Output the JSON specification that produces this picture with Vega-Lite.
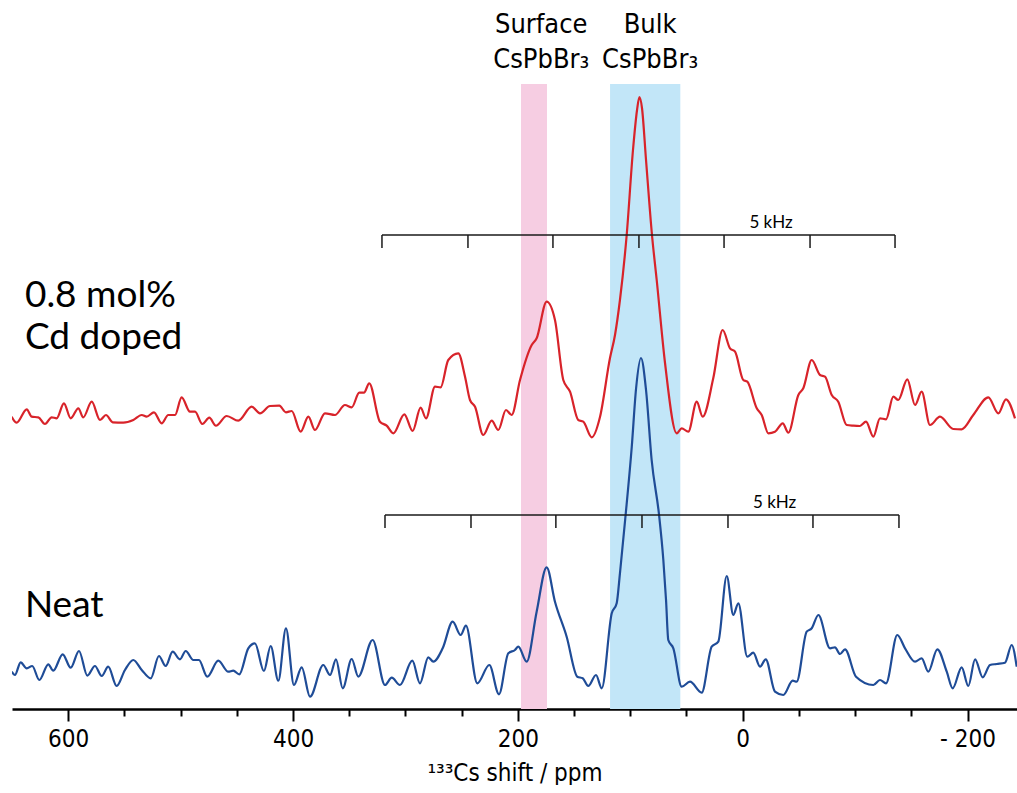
{
  "$schema": "https://vega.github.io/schema/vega-lite/v6.json",
  "width": 1005,
  "height": 709,
  "autosize": {"type": "pad"},
  "padding": {"left": 12, "right": 0, "top": 0, "bottom": 0},
  "background": "white",
  "config": {"view": {"stroke": null}},
  "datasets": {
    "bands": [
      {"x": 197.2, "x2": 174.1, "y": 0, "y2": 625, "c": "surface"},
      {"x": 118.0, "x2": 55.5, "y": 0, "y2": 625, "c": "bulk"}
    ],
    "spec": [
      {"x": 650.3, "y": 292.3, "s": "doped"}, {"x": 645.9, "y": 286.3, "s": "doped"}, {"x": 636.9, "y": 299.7, "s": "doped"}, {"x": 632.5, "y": 292.3, "s": "doped"}, {"x": 626.6, "y": 291.7, "s": "doped"}, {"x": 620.7, "y": 285, "s": "doped"}, {"x": 614.7, "y": 291.7, "s": "doped"}, {"x": 610.3, "y": 290.7, "s": "doped"}, {"x": 603.8, "y": 305.7, "s": "doped"}, {"x": 597.8, "y": 290.7, "s": "doped"}, {"x": 591.0, "y": 300.7, "s": "doped"}, {"x": 586.6, "y": 291.7, "s": "doped"}, {"x": 579.1, "y": 307.3, "s": "doped"}, {"x": 571.7, "y": 289, "s": "doped"}, {"x": 566.4, "y": 294, "s": "doped"}, {"x": 560.4, "y": 286.7, "s": "doped"}, {"x": 551.0, "y": 286.3, "s": "doped"}, {"x": 542.1, "y": 289, "s": "doped"}, {"x": 534.6, "y": 294, "s": "doped"}, {"x": 530.2, "y": 292.3, "s": "doped"}, {"x": 523.7, "y": 296.7, "s": "doped"}, {"x": 516.9, "y": 285.7, "s": "doped"}, {"x": 511.0, "y": 294, "s": "doped"}, {"x": 505.0, "y": 294, "s": "doped"}, {"x": 499.1, "y": 311.7, "s": "doped"}, {"x": 491.7, "y": 297.3, "s": "doped"}, {"x": 487.2, "y": 297.3, "s": "doped"}, {"x": 480.7, "y": 285, "s": "doped"}, {"x": 474.5, "y": 291.3, "s": "doped"}, {"x": 468.6, "y": 283.3, "s": "doped"}, {"x": 459.0, "y": 293, "s": "doped"}, {"x": 448.7, "y": 288.3, "s": "doped"}, {"x": 436.8, "y": 302.3, "s": "doped"}, {"x": 429.4, "y": 295.7, "s": "doped"}, {"x": 420.5, "y": 303, "s": "doped"}, {"x": 412.2, "y": 303.3, "s": "doped"}, {"x": 406.3, "y": 296.7, "s": "doped"}, {"x": 401.2, "y": 298, "s": "doped"}, {"x": 393.2, "y": 277.3, "s": "doped"}, {"x": 386.4, "y": 292.3, "s": "doped"}, {"x": 380.5, "y": 279, "s": "doped"}, {"x": 371.6, "y": 295.7, "s": "doped"}, {"x": 362.7, "y": 294, "s": "doped"}, {"x": 353.8, "y": 304, "s": "doped"}, {"x": 347.8, "y": 301.7, "s": "doped"}, {"x": 341.1, "y": 316.3, "s": "doped"}, {"x": 336.9, "y": 316.3, "s": "doped"}, {"x": 332.2, "y": 325.7, "s": "doped"}, {"x": 322.7, "y": 287.3, "s": "doped"}, {"x": 316.7, "y": 283.3, "s": "doped"}, {"x": 310.8, "y": 275.7, "s": "doped"}, {"x": 301.0, "y": 294.7, "s": "doped"}, {"x": 293.6, "y": 278, "s": "doped"}, {"x": 286.5, "y": 301.3, "s": "doped"}, {"x": 281.7, "y": 290.7, "s": "doped"}, {"x": 273.7, "y": 322.3, "s": "doped"}, {"x": 268.7, "y": 321.7, "s": "doped"}, {"x": 261.9, "y": 349, "s": "doped"}, {"x": 253.0, "y": 355.7, "s": "doped"}, {"x": 247.0, "y": 332.3, "s": "doped"}, {"x": 242.6, "y": 309, "s": "doped"}, {"x": 238.1, "y": 302.3, "s": "doped"}, {"x": 230.8, "y": 274, "s": "doped"}, {"x": 223.3, "y": 288.3, "s": "doped"}, {"x": 217.4, "y": 279, "s": "doped"}, {"x": 210.6, "y": 299, "s": "doped"}, {"x": 205.5, "y": 294, "s": "doped"}, {"x": 198.1, "y": 329, "s": "doped"}, {"x": 187.7, "y": 364, "s": "doped"}, {"x": 183.3, "y": 370.7, "s": "doped"}, {"x": 174.4, "y": 407.3, "s": "doped"}, {"x": 167.0, "y": 389, "s": "doped"}, {"x": 159.6, "y": 329, "s": "doped"}, {"x": 153.6, "y": 317.3, "s": "doped"}, {"x": 146.3, "y": 289, "s": "doped"}, {"x": 141.8, "y": 287.3, "s": "doped"}, {"x": 134.3, "y": 271.7, "s": "doped"}, {"x": 126.9, "y": 292.3, "s": "doped"}, {"x": 118.1, "y": 350.7, "s": "doped"}, {"x": 113.6, "y": 374, "s": "doped"}, {"x": 109.2, "y": 409, "s": "doped"}, {"x": 103.2, "y": 474, "s": "doped"}, {"x": 97.6, "y": 559, "s": "doped"}, {"x": 94.0, "y": 599, "s": "doped"}, {"x": 91.9, "y": 612, "s": "doped"}, {"x": 89.6, "y": 601, "s": "doped"}, {"x": 86.0, "y": 549, "s": "doped"}, {"x": 80.7, "y": 474, "s": "doped"}, {"x": 76.5, "y": 429, "s": "doped"}, {"x": 69.1, "y": 346, "s": "doped"}, {"x": 58.7, "y": 275.7, "s": "doped"}, {"x": 54.3, "y": 280.7, "s": "doped"}, {"x": 48.4, "y": 277.3, "s": "doped"}, {"x": 40.9, "y": 307.3, "s": "doped"}, {"x": 35.6, "y": 292.3, "s": "doped"}, {"x": 26.2, "y": 330.7, "s": "doped"}, {"x": 17.8, "y": 379, "s": "doped"}, {"x": 11.3, "y": 360.7, "s": "doped"}, {"x": 6.8, "y": 357.3, "s": "doped"}, {"x": -0.5, "y": 329, "s": "doped"}, {"x": -4.1, "y": 327.3, "s": "doped"}, {"x": -12.5, "y": 300.7, "s": "doped"}, {"x": -16.9, "y": 294, "s": "doped"}, {"x": -22.8, "y": 275.7, "s": "doped"}, {"x": -28.7, "y": 277.3, "s": "doped"}, {"x": -35.6, "y": 285.7, "s": "doped"}, {"x": -40.6, "y": 276.3, "s": "doped"}, {"x": -49.5, "y": 314, "s": "doped"}, {"x": -53.9, "y": 320.7, "s": "doped"}, {"x": -61.4, "y": 349, "s": "doped"}, {"x": -68.8, "y": 334, "s": "doped"}, {"x": -73.2, "y": 332.3, "s": "doped"}, {"x": -79.2, "y": 314, "s": "doped"}, {"x": -85.0, "y": 307.3, "s": "doped"}, {"x": -92.5, "y": 284, "s": "doped"}, {"x": -98.4, "y": 283.3, "s": "doped"}, {"x": -104.3, "y": 283, "s": "doped"}, {"x": -109.7, "y": 287.3, "s": "doped"}, {"x": -116.2, "y": 272.3, "s": "doped"}, {"x": -122.1, "y": 290.7, "s": "doped"}, {"x": -127.5, "y": 289.7, "s": "doped"}, {"x": -134.0, "y": 312.3, "s": "doped"}, {"x": -138.4, "y": 309, "s": "doped"}, {"x": -146.4, "y": 329.7, "s": "doped"}, {"x": -153.3, "y": 304, "s": "doped"}, {"x": -159.2, "y": 317.3, "s": "doped"}, {"x": -166.6, "y": 284, "s": "doped"}, {"x": -175.5, "y": 292.3, "s": "doped"}, {"x": -187.3, "y": 280, "s": "doped"}, {"x": -194.8, "y": 279.7, "s": "doped"}, {"x": -205.1, "y": 294, "s": "doped"}, {"x": -218.5, "y": 311.7, "s": "doped"}, {"x": -227.4, "y": 295.7, "s": "doped"}, {"x": -234.2, "y": 309.7, "s": "doped"}, {"x": -242.2, "y": 290.7, "s": "doped"},
      {"x": 650.3, "y": 37.3, "s": "neat"}, {"x": 647.4, "y": 34, "s": "neat"}, {"x": 642.3, "y": 46.7, "s": "neat"}, {"x": 636.9, "y": 40.7, "s": "neat"}, {"x": 632.0, "y": 43, "s": "neat"}, {"x": 625.7, "y": 29, "s": "neat"}, {"x": 617.7, "y": 44.7, "s": "neat"}, {"x": 613.3, "y": 38.3, "s": "neat"}, {"x": 604.9, "y": 54.7, "s": "neat"}, {"x": 597.8, "y": 41.3, "s": "neat"}, {"x": 590.4, "y": 58, "s": "neat"}, {"x": 583.0, "y": 33.3, "s": "neat"}, {"x": 576.2, "y": 43, "s": "neat"}, {"x": 570.2, "y": 33, "s": "neat"}, {"x": 564.4, "y": 42.3, "s": "neat"}, {"x": 556.9, "y": 23, "s": "neat"}, {"x": 549.5, "y": 39, "s": "neat"}, {"x": 542.1, "y": 49, "s": "neat"}, {"x": 534.6, "y": 39, "s": "neat"}, {"x": 526.6, "y": 30.7, "s": "neat"}, {"x": 519.3, "y": 53, "s": "neat"}, {"x": 513.3, "y": 43, "s": "neat"}, {"x": 507.1, "y": 57.3, "s": "neat"}, {"x": 500.6, "y": 49.7, "s": "neat"}, {"x": 495.5, "y": 58, "s": "neat"}, {"x": 488.7, "y": 49, "s": "neat"}, {"x": 483.7, "y": 49, "s": "neat"}, {"x": 476.3, "y": 32.3, "s": "neat"}, {"x": 466.5, "y": 48.3, "s": "neat"}, {"x": 457.6, "y": 37.3, "s": "neat"}, {"x": 453.2, "y": 38.3, "s": "neat"}, {"x": 447.8, "y": 34.7, "s": "neat"}, {"x": 439.8, "y": 60.7, "s": "neat"}, {"x": 433.9, "y": 65.7, "s": "neat"}, {"x": 425.9, "y": 38, "s": "neat"}, {"x": 419.9, "y": 63, "s": "neat"}, {"x": 413.1, "y": 28.3, "s": "neat"}, {"x": 406.3, "y": 80.7, "s": "neat"}, {"x": 399.2, "y": 24, "s": "neat"}, {"x": 392.3, "y": 41.7, "s": "neat"}, {"x": 384.9, "y": 12.3, "s": "neat"}, {"x": 373.1, "y": 44, "s": "neat"}, {"x": 367.1, "y": 34, "s": "neat"}, {"x": 361.8, "y": 49.7, "s": "neat"}, {"x": 355.8, "y": 20.7, "s": "neat"}, {"x": 347.8, "y": 50, "s": "neat"}, {"x": 342.0, "y": 32.3, "s": "neat"}, {"x": 329.2, "y": 69, "s": "neat"}, {"x": 318.2, "y": 24, "s": "neat"}, {"x": 312.2, "y": 31.3, "s": "neat"}, {"x": 304.9, "y": 24, "s": "neat"}, {"x": 293.9, "y": 48.3, "s": "neat"}, {"x": 287.1, "y": 25.7, "s": "neat"}, {"x": 279.7, "y": 51.7, "s": "neat"}, {"x": 275.2, "y": 47.3, "s": "neat"}, {"x": 266.9, "y": 60.7, "s": "neat"}, {"x": 258.0, "y": 87.3, "s": "neat"}, {"x": 250.9, "y": 74, "s": "neat"}, {"x": 246.2, "y": 83.3, "s": "neat"}, {"x": 236.1, "y": 25.7, "s": "neat"}, {"x": 225.4, "y": 44, "s": "neat"}, {"x": 216.8, "y": 14.7, "s": "neat"}, {"x": 208.5, "y": 55.7, "s": "neat"}, {"x": 202.6, "y": 59, "s": "neat"}, {"x": 199.6, "y": 62.3, "s": "neat"}, {"x": 192.2, "y": 47.3, "s": "neat"}, {"x": 183.3, "y": 97.3, "s": "neat"}, {"x": 174.4, "y": 141.7, "s": "neat"}, {"x": 167.0, "y": 107.3, "s": "neat"}, {"x": 156.6, "y": 72.3, "s": "neat"}, {"x": 147.1, "y": 32.3, "s": "neat"}, {"x": 142.3, "y": 30.7, "s": "neat"}, {"x": 137.4, "y": 23, "s": "neat"}, {"x": 130.5, "y": 34, "s": "neat"}, {"x": 125.4, "y": 20.7, "s": "neat"}, {"x": 116.5, "y": 95.7, "s": "neat"}, {"x": 112.1, "y": 105.7, "s": "neat"}, {"x": 109.2, "y": 135.7, "s": "neat"}, {"x": 104.5, "y": 190, "s": "neat"}, {"x": 98.7, "y": 262, "s": "neat"}, {"x": 94.9, "y": 320, "s": "neat"}, {"x": 90.5, "y": 351, "s": "neat"}, {"x": 86.0, "y": 319, "s": "neat"}, {"x": 81.0, "y": 249, "s": "neat"}, {"x": 74.4, "y": 194, "s": "neat"}, {"x": 70.6, "y": 149, "s": "neat"}, {"x": 68.2, "y": 109, "s": "neat"}, {"x": 66.2, "y": 69, "s": "neat"}, {"x": 61.7, "y": 60.7, "s": "neat"}, {"x": 54.3, "y": 22.3, "s": "neat"}, {"x": 46.9, "y": 27.3, "s": "neat"}, {"x": 36.5, "y": 16.3, "s": "neat"}, {"x": 27.6, "y": 62.3, "s": "neat"}, {"x": 21.7, "y": 67.3, "s": "neat"}, {"x": 14.2, "y": 133, "s": "neat"}, {"x": 8.4, "y": 94, "s": "neat"}, {"x": 3.9, "y": 105.7, "s": "neat"}, {"x": -4.1, "y": 52.3, "s": "neat"}, {"x": -9.4, "y": 56.3, "s": "neat"}, {"x": -15.4, "y": 42.3, "s": "neat"}, {"x": -20.5, "y": 49.7, "s": "neat"}, {"x": -28.7, "y": 17.3, "s": "neat"}, {"x": -36.1, "y": 14, "s": "neat"}, {"x": -44.5, "y": 28.3, "s": "neat"}, {"x": -48.0, "y": 27.3, "s": "neat"}, {"x": -56.9, "y": 77.3, "s": "neat"}, {"x": -61.4, "y": 80.7, "s": "neat"}, {"x": -67.3, "y": 94, "s": "neat"}, {"x": -77.7, "y": 60.7, "s": "neat"}, {"x": -82.1, "y": 61.7, "s": "neat"}, {"x": -86.6, "y": 55, "s": "neat"}, {"x": -91.0, "y": 59.7, "s": "neat"}, {"x": -100.8, "y": 32.3, "s": "neat"}, {"x": -116.2, "y": 24, "s": "neat"}, {"x": -122.1, "y": 29, "s": "neat"}, {"x": -127.5, "y": 25.7, "s": "neat"}, {"x": -137.5, "y": 74, "s": "neat"}, {"x": -144.4, "y": 60.7, "s": "neat"}, {"x": -153.3, "y": 47.3, "s": "neat"}, {"x": -159.2, "y": 50.7, "s": "neat"}, {"x": -165.1, "y": 37.3, "s": "neat"}, {"x": -173.1, "y": 59.7, "s": "neat"}, {"x": -181.5, "y": 37.3, "s": "neat"}, {"x": -186.8, "y": 20.7, "s": "neat"}, {"x": -194.8, "y": 41.7, "s": "neat"}, {"x": -200.7, "y": 23, "s": "neat"}, {"x": -206.7, "y": 49.7, "s": "neat"}, {"x": -213.5, "y": 31.7, "s": "neat"}, {"x": -220.0, "y": 44, "s": "neat"}, {"x": -226.0, "y": 45, "s": "neat"}, {"x": -233.3, "y": 46.3, "s": "neat"}, {"x": -239.3, "y": 64, "s": "neat"}, {"x": -243.7, "y": 42.3, "s": "neat"}
    ],
    "bars": [
      {"x": 320.9, "x2": -135.5, "y": 474, "y2": 474},
      {"x": 320.9, "x2": 320.9, "y": 474, "y2": 461},
      {"x": 244.4, "x2": 244.4, "y": 474, "y2": 461},
      {"x": 168.8, "x2": 168.8, "y": 474, "y2": 461},
      {"x": 92.3, "x2": 92.3, "y": 474, "y2": 461},
      {"x": 16.6, "x2": 16.6, "y": 474, "y2": 461},
      {"x": -59.9, "x2": -59.9, "y": 474, "y2": 461},
      {"x": -135.5, "x2": -135.5, "y": 474, "y2": 461},
      {"x": 318.2, "x2": -139.0, "y": 194, "y2": 194},
      {"x": 318.2, "x2": 318.2, "y": 194, "y2": 181},
      {"x": 241.7, "x2": 241.7, "y": 194, "y2": 181},
      {"x": 166.2, "x2": 166.2, "y": 194, "y2": 181},
      {"x": 89.6, "x2": 89.6, "y": 194, "y2": 181},
      {"x": 13.1, "x2": 13.1, "y": 194, "y2": 181},
      {"x": -62.5, "x2": -62.5, "y": 194, "y2": 181},
      {"x": -139.0, "x2": -139.0, "y": 194, "y2": 181}
    ],
    "khz": [
      {"x": -25.2, "y": 486, "t": "5 kHz"},
      {"x": -28.4, "y": 206, "t": "5 kHz"}
    ],
    "heads": [
      {"x": 179.2, "y": 684, "t": "Surface"},
      {"x": 179.2, "y": 649, "t": "CsPbBr₃"},
      {"x": 82.4, "y": 684, "t": "Bulk"},
      {"x": 82.4, "y": 649, "t": "CsPbBr₃"}
    ],
    "samples": [
      {"x": 638.5, "y": 402, "t": "0.8 mol%"},
      {"x": 638.5, "y": 360, "t": "Cd doped"},
      {"x": 638.5, "y": 92, "t": "Neat"}
    ]
  },
  "encoding": {
    "x": {
      "field": "x", "type": "quantitative",
      "scale": {"domain": [650, -244], "nice": false, "zero": false},
      "axis": {
        "title": "¹³³Cs shift / ppm",
        "values": [-200, -150, -100, -50, 0, 50, 100, 150, 200, 250, 300, 350, 400, 450, 500, 550, 600],
        "labelExpr": "datum.value % 200 == 0 ? (datum.value < 0 ? '- ' + (-datum.value) : '' + datum.value) : ''",
        "tickSize": {"condition": {"test": "datum.value % 200 == 0", "value": 12}, "value": 7},
        "tickWidth": 2,
        "tickColor": "#000",
        "domainColor": "#000",
        "domainWidth": 2.5,
        "labelFont": "Liberation Sans Narrow, DejaVu Sans Condensed, sans-serif",
        "labelFontSize": 24,
        "labelColor": "#000",
        "labelPadding": 6,
        "labelFlush": false,
        "labelOverlap": false,
        "grid": false,
        "titleFont": "Liberation Sans Narrow, DejaVu Sans Condensed, sans-serif",
        "titleFontSize": 24,
        "titleFontWeight": "normal",
        "titleColor": "#000",
        "titlePadding": 10
      }
    },
    "y": {"field": "y", "type": "quantitative", "scale": {"domain": [0, 709], "nice": false, "zero": false}, "axis": null}
  },
  "layer": [
    {
      "data": {"name": "bands"},
      "mark": {"type": "rect"},
      "encoding": {
        "x2": {"field": "x2"},
        "y2": {"field": "y2"},
        "fill": {"field": "c", "type": "nominal", "scale": {"domain": ["surface", "bulk"], "range": ["#f6cde2", "#c2e6f8"]}, "legend": null}
      }
    },
    {
      "data": {"name": "spec"},
      "mark": {"type": "line", "interpolate": "monotone", "strokeWidth": 2.2, "clip": true},
      "encoding": {
        "stroke": {"field": "s", "type": "nominal", "scale": {"domain": ["doped", "neat"], "range": ["#d8232a", "#1f4c97"]}, "legend": null}
      }
    },
    {
      "data": {"name": "bars"},
      "mark": {"type": "rule", "color": "#1a1a1a", "strokeWidth": 1.5},
      "encoding": {
        "x2": {"field": "x2"},
        "y2": {"field": "y2"}
      }
    },
    {
      "data": {"name": "khz"},
      "mark": {"type": "text", "font": "Lato, sans-serif", "fontSize": 17, "align": "center", "baseline": "middle", "color": "#000"},
      "encoding": {"text": {"field": "t"}}
    },
    {
      "data": {"name": "heads"},
      "mark": {"type": "text", "font": "Liberation Sans Narrow, DejaVu Sans Condensed, sans-serif", "fontSize": 27, "align": "center", "baseline": "middle", "color": "#000"},
      "encoding": {"text": {"field": "t"}}
    },
    {
      "data": {"name": "samples"},
      "mark": {"type": "text", "font": "Lato, sans-serif", "fontSize": 37, "align": "left", "baseline": "alphabetic", "color": "#000"},
      "encoding": {"text": {"field": "t"}}
    }
  ]
}
